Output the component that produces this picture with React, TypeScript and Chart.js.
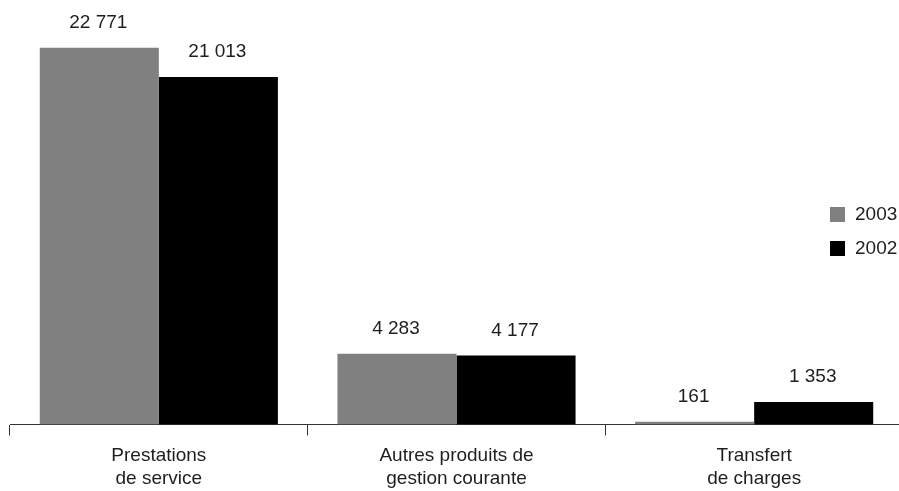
import React, { useEffect, useRef } from "react";
import { Chart, registerables } from "chart.js";

Chart.register(...registerables);

const categories: string[][] = [
  ["Prestations", "de service"],
  ["Autres produits de", "gestion courante"],
  ["Transfert", "de charges"],
];
const seriesLabels = ["2003", "2002"];
const values2003 = [22771, 4283, 161];
const values2002 = [21013, 4177, 1353];
const seriesColors = ["#808080", "#000000"];

const FONT = '"Liberation Sans", Arial, Helvetica, sans-serif';

const fmt = (v: number) => String(v).replace(/\B(?=(\d{3})+(?!\d))/g, " ");

const valueLabels = {
  id: "valueLabels",
  afterDatasetsDraw(chart: any) {
    const ctx = chart.ctx;
    ctx.save();
    ctx.font = `19px ${FONT}`;
    ctx.fillStyle = "#1e1e1e";
    ctx.textAlign = "center";
    ctx.textBaseline = "middle";
    chart.data.datasets.forEach((ds: any, di: number) => {
      const meta = chart.getDatasetMeta(di);
      meta.data.forEach((el: any, i: number) => {
        ctx.fillText(fmt(ds.data[i]), el.x - 1, el.y - 25);
      });
    });
    ctx.restore();
  },
};

const customLegend = {
  id: "customLegend",
  afterDraw(chart: any) {
    const ctx = chart.ctx;
    ctx.save();
    ctx.font = `19px ${FONT}`;
    ctx.textBaseline = "middle";
    ctx.textAlign = "left";
    chart.data.datasets.forEach((ds: any, di: number) => {
      const y = 207 + di * 34;
      ctx.fillStyle = ds.backgroundColor;
      ctx.fillRect(830, y, 15, 15);
      ctx.fillStyle = "#1e1e1e";
      ctx.fillText(ds.label, 855, y + 8);
    });
    ctx.restore();
  },
};

export default function App() {
  const ref = useRef<HTMLCanvasElement>(null);
  useEffect(() => {
    if (!ref.current) return;
    const chart = new Chart(ref.current, {
      type: "bar",
      data: {
        labels: categories,
        datasets: [
          { label: seriesLabels[0], data: values2003, backgroundColor: seriesColors[0] },
          { label: seriesLabels[1], data: values2002, backgroundColor: seriesColors[1] },
        ],
      },
      options: {
        responsive: false,
        animation: false,
        devicePixelRatio: 1,
        layout: { padding: { left: 10, right: 2, top: 11, bottom: 0 } },
        datasets: { bar: { categoryPercentage: 0.8, barPercentage: 1.0 } },
        plugins: {
          legend: { display: false },
          tooltip: { enabled: false },
        },
        scales: {
          x: {
            grid: {
              display: true,
              offset: true,
              drawOnChartArea: false,
              drawTicks: true,
              tickLength: 11,
              color: "#333",
              lineWidth: 1,
            },
            border: { display: true, color: "#333", width: 1 },
            ticks: {
              padding: 8,
              color: "#1e1e1e",
              font: { family: FONT, size: 19, lineHeight: 1.25 },
              maxRotation: 0,
              autoSkip: false,
            },
          },
          y: {
            display: false,
            min: 0,
            max: 25000,
          },
        },
      },
      plugins: [valueLabels, customLegend],
    });
    return () => chart.destroy();
  }, []);
  return (
    <div style={{ position: "fixed", left: 0, top: 0, width: 905, height: 491, overflow: "hidden", background: "#fff" }}>
      <canvas ref={ref} width={905} height={499} style={{ width: 905, height: 499, display: "block" }} />
    </div>
  );
}
